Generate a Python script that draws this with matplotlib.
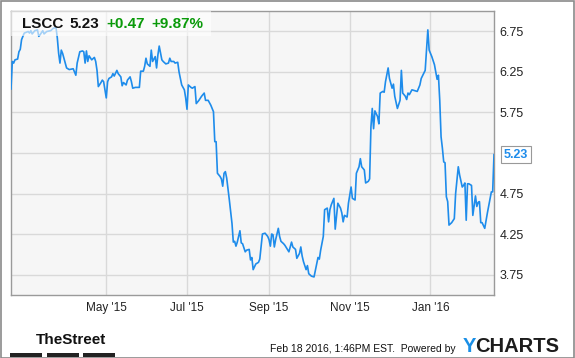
import numpy as np
import pandas as pd
import matplotlib
matplotlib.use("Agg")
import matplotlib.pyplot as plt
import matplotlib.dates as mdates
from matplotlib.patches import Rectangle

plt.rcParams['font.family'] = ['Liberation Sans', 'DejaVu Sans']

ticker = 'LSCC'
last_price = '5.23'
change = '+0.47'
change_pct = '+9.87%'

dates = [
    '2015-02-18', '2015-02-19', '2015-02-20', '2015-02-21', '2015-02-23', '2015-02-24', '2015-02-25', '2015-02-26',
    '2015-02-27', '2015-02-28', '2015-03-03', '2015-03-04', '2015-03-05', '2015-03-06', '2015-03-08', '2015-03-10',
    '2015-03-11', '2015-03-12', '2015-03-14', '2015-03-15', '2015-03-17', '2015-03-20', '2015-03-22', '2015-03-24',
    '2015-03-25', '2015-03-26', '2015-03-27', '2015-03-28', '2015-03-29', '2015-03-30', '2015-04-01', '2015-04-03',
    '2015-04-06', '2015-04-07', '2015-04-08', '2015-04-09', '2015-04-11', '2015-04-13', '2015-04-14', '2015-04-15',
    '2015-04-16', '2015-04-17', '2015-04-18', '2015-04-20', '2015-04-22', '2015-04-23', '2015-04-24', '2015-04-25',
    '2015-04-27', '2015-04-28', '2015-04-29', '2015-05-01', '2015-05-02', '2015-05-03', '2015-05-05', '2015-05-06',
    '2015-05-07', '2015-05-09', '2015-05-10', '2015-05-12', '2015-05-13', '2015-05-14', '2015-05-16', '2015-05-17',
    '2015-05-19', '2015-05-20', '2015-05-21', '2015-05-23', '2015-05-26', '2015-05-27', '2015-05-29', '2015-05-30',
    '2015-05-31', '2015-06-01', '2015-06-03', '2015-06-04', '2015-06-05', '2015-06-07', '2015-06-08', '2015-06-09',
    '2015-06-10', '2015-06-12', '2015-06-13', '2015-06-15', '2015-06-17', '2015-06-18', '2015-06-19', '2015-06-21',
    '2015-06-22', '2015-06-24', '2015-06-25', '2015-06-27', '2015-06-29', '2015-06-30', '2015-07-01', '2015-07-02',
    '2015-07-04', '2015-07-05', '2015-07-07', '2015-07-08', '2015-07-10', '2015-07-12', '2015-07-14', '2015-07-15',
    '2015-07-17', '2015-07-19', '2015-07-21', '2015-07-22', '2015-07-23', '2015-07-24', '2015-07-26', '2015-07-27',
    '2015-07-28', '2015-07-29', '2015-07-30', '2015-07-31', '2015-08-02', '2015-08-04', '2015-08-05', '2015-08-06',
    '2015-08-07', '2015-08-08', '2015-08-10', '2015-08-11', '2015-08-12', '2015-08-14', '2015-08-15', '2015-08-17',
    '2015-08-18', '2015-08-19', '2015-08-20', '2015-08-22', '2015-08-24', '2015-08-25', '2015-08-26', '2015-08-27',
    '2015-08-29', '2015-08-31', '2015-09-01', '2015-09-02', '2015-09-03', '2015-09-04', '2015-09-05', '2015-09-06',
    '2015-09-08', '2015-09-09', '2015-09-10', '2015-09-12', '2015-09-13', '2015-09-16', '2015-09-18', '2015-09-19',
    '2015-09-21', '2015-09-22', '2015-09-24', '2015-09-25', '2015-09-26', '2015-09-27', '2015-09-29', '2015-09-30',
    '2015-10-01', '2015-10-03', '2015-10-05', '2015-10-07', '2015-10-08', '2015-10-09', '2015-10-10', '2015-10-12',
    '2015-10-13', '2015-10-15', '2015-10-16', '2015-10-17', '2015-10-18', '2015-10-20', '2015-10-21', '2015-10-23',
    '2015-10-25', '2015-10-26', '2015-10-27', '2015-10-28', '2015-10-30', '2015-10-31', '2015-11-01', '2015-11-02',
    '2015-11-03', '2015-11-05', '2015-11-06', '2015-11-08', '2015-11-09', '2015-11-10', '2015-11-12', '2015-11-13',
    '2015-11-15', '2015-11-16', '2015-11-17', '2015-11-18', '2015-11-19', '2015-11-20', '2015-11-22', '2015-11-23',
    '2015-11-24', '2015-11-26', '2015-11-27', '2015-11-28', '2015-11-30', '2015-12-01', '2015-12-03', '2015-12-04',
    '2015-12-05', '2015-12-07', '2015-12-09', '2015-12-10', '2015-12-11', '2015-12-13', '2015-12-14', '2015-12-15',
    '2015-12-16', '2015-12-18', '2015-12-20', '2015-12-22', '2015-12-24', '2015-12-25', '2015-12-28', '2015-12-30',
    '2015-12-31', '2016-01-02', '2016-01-04', '2016-01-05', '2016-01-06', '2016-01-07', '2016-01-08', '2016-01-09',
    '2016-01-10', '2016-01-11', '2016-01-12', '2016-01-13', '2016-01-14', '2016-01-15', '2016-01-17', '2016-01-19',
    '2016-01-20', '2016-01-22', '2016-01-23', '2016-01-25', '2016-01-26', '2016-01-27', '2016-01-28', '2016-01-29',
    '2016-01-30', '2016-02-01', '2016-02-02', '2016-02-04', '2016-02-05', '2016-02-06', '2016-02-07', '2016-02-08',
    '2016-02-09', '2016-02-11', '2016-02-13', '2016-02-16', '2016-02-17', '2016-02-18',
]

prices = [
    6.04, 6.38, 6.36, 6.40, 6.41, 6.50, 6.53, 6.65,
    6.69, 6.73, 6.75, 6.73, 6.76, 6.72, 6.76, 6.77,
    6.69, 6.71, 6.76, 6.72, 6.75, 6.76, 6.79, 6.80,
    6.67, 6.48, 6.36, 6.52, 6.48, 6.42, 6.30, 6.28,
    6.29, 6.25, 6.21, 6.36, 6.50, 6.51, 6.50, 6.36,
    6.51, 6.38, 6.45, 6.40, 6.43, 6.38, 6.27, 6.07,
    6.12, 6.15, 6.13, 5.93, 6.13, 6.17, 6.19, 6.23,
    6.20, 6.27, 6.23, 6.19, 6.08, 6.12, 6.09, 6.15,
    6.19, 6.13, 6.05, 6.06, 6.06, 6.26, 6.26, 6.32,
    6.42, 6.35, 6.32, 6.52, 6.38, 6.44, 6.30, 6.46,
    6.57, 6.40, 6.38, 6.35, 6.36, 6.42, 6.38, 6.38,
    6.36, 6.37, 6.25, 6.09, 6.03, 5.93, 5.79, 6.09,
    6.06, 6.05, 6.07, 5.86, 5.90, 5.95, 5.99, 5.90,
    5.90, 5.84, 5.76, 5.39, 5.39, 5.00, 4.96, 4.93,
    4.84, 5.00, 5.02, 4.94, 4.67, 4.38, 4.15, 4.16,
    4.10, 4.15, 4.29, 4.14, 4.13, 4.03, 4.05, 4.06,
    3.93, 3.96, 3.81, 3.88, 3.90, 3.94, 4.09, 4.25,
    4.26, 4.22, 4.18, 4.10, 4.25, 4.24, 4.09, 4.18,
    4.32, 4.22, 4.16, 4.13, 4.11, 4.03, 4.15, 4.09,
    4.06, 3.95, 4.01, 4.09, 3.98, 3.91, 3.81, 3.86,
    3.76, 3.73, 3.72, 3.88, 3.96, 3.94, 4.05, 4.22,
    4.55, 4.57, 4.40, 4.55, 4.61, 4.69, 4.31, 4.63,
    4.57, 4.51, 4.40, 4.48, 4.46, 4.63, 4.73, 4.83,
    4.69, 4.67, 5.00, 5.08, 5.18, 5.08, 5.04, 4.88,
    4.90, 4.93, 5.57, 5.80, 5.55, 5.77, 5.70, 5.61,
    5.99, 6.01, 6.00, 6.13, 6.30, 6.17, 6.05, 6.10,
    5.95, 5.80, 5.90, 6.27, 5.99, 5.95, 5.91, 5.99,
    5.97, 6.03, 6.02, 6.01, 6.09, 6.17, 6.27, 6.77,
    6.52, 6.44, 6.34, 6.25, 6.16, 6.21, 5.90, 5.45,
    5.31, 5.14, 5.13, 4.71, 4.65, 4.36, 4.39, 4.44,
    4.75, 5.08, 4.98, 4.83, 4.85, 4.88, 4.42, 4.87,
    4.87, 4.85, 4.48, 4.72, 4.59, 4.64, 4.65, 4.39,
    4.39, 4.32, 4.51, 4.77, 4.77, 5.23,
]

yticks = [3.75, 4.25, 4.75, 5.25, 5.75, 6.25, 6.75]
ylabels = ['3.75', '4.25', '4.75', '', '5.75', '6.25', '6.75']
xticks = ['2015-05-01', '2015-07-01', '2015-09-01', '2015-11-01', '2016-01-01']
xlabels = ["May '15", "Jul '15", "Sep '15", "Nov '15", "Jan '16"]

blue = '#1e8ceb'
green = '#0a9a0a'
W, H = 575, 358

fig = plt.figure(figsize=(W / 100, H / 100), dpi=100)
ax = fig.add_axes([11 / W, 1 - 295 / H, 483 / W, 284 / H])
ax.set_facecolor('#f6f6f6')

x = pd.to_datetime(dates)
ax.plot(x, prices, color=blue, lw=1.2, zorder=3)

ax.set_xlim(pd.Timestamp('2015-02-18'), pd.Timestamp('2016-02-18'))
ax.set_ylim(3.497, 7.003)

ax.set_xticks(pd.to_datetime(xticks))
ax.set_xticklabels(xlabels)
ax.set_yticks(yticks)
ax.set_yticklabels(ylabels)
ax.yaxis.tick_right()
ax.tick_params(axis='both', length=0, colors='#222222')
ax.tick_params(axis='x', labelsize=8.5, pad=5)
ax.tick_params(axis='y', labelsize=9, pad=4)
ax.grid(True, color='#d9d9d9', lw=1)
ax.set_axisbelow(True)
for s in ax.spines.values():
    s.set_color('#9a9a9a')
    s.set_linewidth(1)

# title strip
ax.add_patch(Rectangle((0, 0.912), 0.414, 0.088, transform=ax.transAxes,
                       facecolor='white', alpha=0.6, edgecolor='none', zorder=4))
ty = 0.954
ax.text(0.022, ty, ticker, transform=ax.transAxes, fontsize=11, fontweight='bold',
        color='#111111', va='center', zorder=5)
ax.text(0.122, ty, last_price, transform=ax.transAxes, fontsize=11, fontweight='bold',
        color='#111111', va='center', zorder=5)
ax.text(0.197, ty, change, transform=ax.transAxes, fontsize=11, fontweight='bold',
        color=green, va='center', zorder=5)
ax.text(0.290, ty, change_pct, transform=ax.transAxes, fontsize=11, fontweight='bold',
        color=green, va='center', zorder=5)

# last price tag
ax.annotate(last_price, xy=(1, prices[-1]), xycoords=('axes fraction', 'data'),
            xytext=(7, 0), textcoords='offset points', fontsize=9, fontweight='bold',
            color=blue, va='center', ha='left', annotation_clip=False,
            bbox=dict(boxstyle='square,pad=0.2', fc='white', ec='#999999', lw=0.8))

# outer border
fig.patches.append(Rectangle((0.5 / W, 0.5 / H), 1 - 1.5 / W, 1 - 1.5 / H, transform=fig.transFigure,
                             fill=False, edgecolor='#8a8a8a', lw=1.2))

# footer
fig.text(36 / W, 1 - 340 / H, 'TheStreet', fontsize=11, fontweight='bold',
         family=['Liberation Sans Narrow', 'Liberation Sans'], color='#111111', va='center')
for bx in [10, 47, 83]:
    fig.patches.append(Rectangle((bx / W, 1 - 357 / H), 32 / W, 4 / H, transform=fig.transFigure,
                                 facecolor='#222222', edgecolor='none'))
fig.text(270 / W, 1 - 349 / H, 'Feb 18 2016, 1:46PM EST.  Powered by', fontsize=7.5,
         color='#111111', va='center')
fig.text(463 / W, 1 - 347 / H, 'Y', fontsize=14.5, fontweight='bold', color='#1a8fe6', va='center')
fig.text(475 / W, 1 - 347 / H, 'CHARTS', fontsize=14.5, fontweight='bold', color='#1c1c1c', va='center')

fig.savefig('out.png', dpi=100)
